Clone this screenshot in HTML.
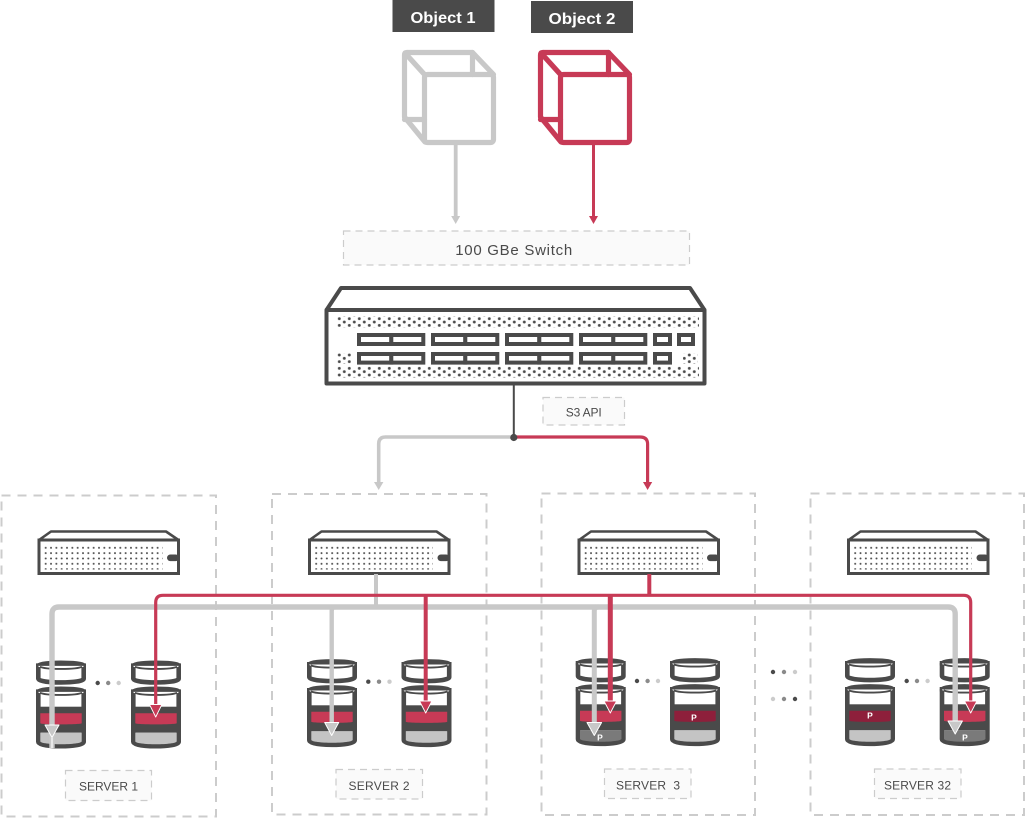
<!DOCTYPE html>
<html>
<head>
<meta charset="utf-8">
<style>
html,body{margin:0;padding:0;background:#fff}
svg{display:block}
text{font-family:"Liberation Sans",sans-serif}
.lb{fill:#fafafa;stroke:#ccc;stroke-width:1.2;stroke-dasharray:7 5}
.sb{fill:#fff;stroke:#ccc;stroke-width:2;stroke-dasharray:9 7}
.t{fill:#4a4a4a;text-anchor:middle}
.p{fill:#fff;font-size:8.5px;font-weight:bold;text-anchor:middle}
</style>
</head>
<body>
<svg width="1026" height="818" viewBox="0 0 1026 818" xmlns="http://www.w3.org/2000/svg">
<defs>
<pattern id="dA" patternUnits="userSpaceOnUse" width="10" height="6.667" patternTransform="translate(339.3 318.7)">
<circle cx="0" cy="0" r="1.45" fill="#4a4a4a"/><circle cx="10" cy="0" r="1.45" fill="#4a4a4a"/><circle cx="0" cy="6.667" r="1.45" fill="#4a4a4a"/><circle cx="10" cy="6.667" r="1.45" fill="#4a4a4a"/>
<circle cx="5" cy="3.333" r="1.45" fill="#4a4a4a"/>
</pattern>
<pattern id="dB" patternUnits="userSpaceOnUse" width="10" height="6.667" patternTransform="translate(339.3 355)">
<circle cx="0" cy="0" r="1.45" fill="#4a4a4a"/><circle cx="10" cy="0" r="1.45" fill="#4a4a4a"/><circle cx="0" cy="6.667" r="1.45" fill="#4a4a4a"/><circle cx="10" cy="6.667" r="1.45" fill="#4a4a4a"/>
<circle cx="5" cy="3.333" r="1.45" fill="#4a4a4a"/>
</pattern>
<pattern id="dS" patternUnits="userSpaceOnUse" width="5.33" height="5.33" patternTransform="translate(8.2 18.3)">
<circle cx="0" cy="0" r="1" fill="#4a4a4a"/><circle cx="5.33" cy="0" r="1" fill="#4a4a4a"/><circle cx="0" cy="5.33" r="1" fill="#4a4a4a"/><circle cx="5.33" cy="5.33" r="1" fill="#4a4a4a"/>
</pattern>
<g id="cube" fill="none" stroke-width="5.2" stroke-linejoin="round" stroke-linecap="round">
<path d="M407 52.5H470L472.5 52.5V74.5"/>
<path d="M407 52.5Q404.5 52.5 404.5 55V117L425 142"/>
<path d="M404.5 119.5H424.5"/>
<path d="M405 53L424.5 74.5"/>
<path d="M472.5 52.5L493.5 74.5"/>
<rect x="424.5" y="74.5" width="69" height="68" rx="3"/>
</g>
<g id="srv">
<path d="M1.5 10.5L13.5 2H128.5L141 10.5" fill="#fff" stroke="#4a4a4a" stroke-width="2.6" stroke-linejoin="round"/>
<rect x="1.5" y="10.5" width="139.5" height="33.5" fill="#fff" stroke="#4a4a4a" stroke-width="3"/>
<rect x="7" y="17" width="118" height="23" fill="url(#dS)"/>
<rect x="129.5" y="25" width="12" height="6.6" rx="3.3" fill="#4a4a4a"/>
</g>
<g id="cyl">
<path d="M2.3 5V18C2.3 23 47.7 23 47.7 18V5Z" fill="#fff" stroke="#4a4a4a" stroke-width="4.6"/>
<path d="M2.3 5C2.3 1 47.7 1 47.7 5Z" fill="#4a4a4a" stroke="#4a4a4a" stroke-width="4.4"/>
<path d="M2.3 5.2H47.7V5.5C47.7 8.7 2.3 8.7 2.3 5.5Z" fill="#fff"/>
<path d="M4 6C9 9 41 9 46 6" fill="none" stroke="#4a4a4a" stroke-width="1.8"/>
<path d="M2.3 31V81C2.3 87 47.7 87 47.7 81V31Z" fill="#fff" stroke="#4a4a4a" stroke-width="4.6"/>
<path d="M2.3 31C2.3 27 47.7 27 47.7 31Z" fill="#4a4a4a" stroke="#4a4a4a" stroke-width="4.4"/>
<path d="M2.3 31.2H47.7V31.5C47.7 34.7 2.3 34.7 2.3 31.5Z" fill="#fff"/>
<path d="M4 32C9 35 41 35 46 32" fill="none" stroke="#4a4a4a" stroke-width="1.8"/>
<rect x="2" y="46" width="46" height="26" fill="#4a4a4a"/>
</g>
<path id="bR" d="M4.3 52.5H45.7V62.5C45.7 64 4.3 64 4.3 62.5Z" fill="#c73a56"/>
<path id="bD" d="M4.3 52.5H45.7V62.5C45.7 64 4.3 64 4.3 62.5Z" fill="#8e1f3b"/>
<path id="gL" d="M4.3 72H45.7V80.5C45.7 84.5 4.3 84.5 4.3 80.5Z" fill="#c4c4c4"/>
<path id="gD" d="M4.3 72H45.7V80.5C45.7 84.5 4.3 84.5 4.3 80.5Z" fill="#7a7a7a"/>
</defs>

<!-- object labels -->
<rect x="392.5" y="0" width="102" height="32" fill="#4a4a4a"/>
<text x="443" y="23" font-size="16" font-weight="bold" fill="#fff" text-anchor="middle" textLength="65" lengthAdjust="spacingAndGlyphs">Object 1</text>
<rect x="531" y="1" width="102" height="32" fill="#4a4a4a"/>
<text x="582" y="24" font-size="16" font-weight="bold" fill="#fff" text-anchor="middle" textLength="67" lengthAdjust="spacingAndGlyphs">Object 2</text>

<!-- cubes -->
<use href="#cube" stroke="#c8c8c8"/>
<use href="#cube" stroke="#c73a56" transform="translate(136 0)"/>

<path d="M455.7 145V217" stroke="#c8c8c8" stroke-width="3.8" fill="none"/>
<polygon points="451.2,216 460.2,216 455.7,224" fill="#c8c8c8"/>
<path d="M593.5 145V217" stroke="#c73a56" stroke-width="3" fill="none"/>
<polygon points="589,216 598,216 593.5,224" fill="#c73a56"/>

<!-- switch label -->
<rect class="lb" x="343.5" y="231" width="346" height="34"/>
<text class="t" x="513.7" y="255" font-size="15" textLength="117" lengthAdjust="spacing">100 GBe Switch</text>

<!-- switch -->
<path d="M326.5 310L341 288H690L704.5 310" fill="#fff" stroke="#4a4a4a" stroke-width="4" stroke-linejoin="round"/>
<rect x="326.5" y="310" width="378" height="73.5" fill="#fff" stroke="#4a4a4a" stroke-width="4" stroke-linejoin="round"/>
<rect x="337" y="316.5" width="362" height="11" fill="url(#dA)"/>
<rect x="337" y="366.5" width="362" height="11" fill="url(#dB)"/>
<rect x="337" y="353" width="15" height="11" fill="url(#dB)"/>
<rect x="683" y="353" width="15" height="11" fill="url(#dB)"/>
<g fill="#fff" stroke="#4a4a4a" stroke-width="4">
<rect x="359" y="335" width="32.3" height="9"/><rect x="391.3" y="335" width="32" height="9"/>
<rect x="433" y="335" width="32.3" height="9"/><rect x="465.3" y="335" width="32" height="9"/>
<rect x="507" y="335" width="32.3" height="9"/><rect x="539.3" y="335" width="32" height="9"/>
<rect x="581" y="335" width="32.3" height="9"/><rect x="613.3" y="335" width="32" height="9"/>
<rect x="655" y="335" width="15" height="9"/><rect x="679" y="335" width="14" height="9"/>
<rect x="359" y="354" width="32.3" height="8.6"/><rect x="391.3" y="354" width="32" height="8.6"/>
<rect x="433" y="354" width="32.3" height="8.6"/><rect x="465.3" y="354" width="32" height="8.6"/>
<rect x="507" y="354" width="32.3" height="8.6"/><rect x="539.3" y="354" width="32" height="8.6"/>
<rect x="581" y="354" width="32.3" height="8.6"/><rect x="613.3" y="354" width="32" height="8.6"/>
<rect x="655" y="354" width="15" height="8.6"/>
</g>

<!-- S3 API -->
<rect class="lb" x="543" y="397.5" width="81.5" height="27.5"/>
<text class="t" x="583.7" y="416.5" font-size="12" textLength="36" lengthAdjust="spacing">S3 API</text>

<!-- split -->
<path d="M514 437H385.5Q378.7 437 378.7 444V484" fill="none" stroke="#c8c8c8" stroke-width="3.6"/>
<polygon points="374,482 383.4,482 378.7,490" fill="#c8c8c8"/>
<path d="M514 437H640Q647.6 437 647.6 444V484" fill="none" stroke="#c73a56" stroke-width="3.2"/>
<polygon points="643,482 652.2,482 647.6,490" fill="#c73a56"/>
<path d="M513.8 385V437" stroke="#4a4a4a" stroke-width="2"/>
<circle cx="513.8" cy="437.5" r="3.6" fill="#4a4a4a"/>

<!-- server boxes -->
<rect class="sb" x="1.5" y="495.5" width="214.5" height="321"/>
<rect class="sb" x="272" y="494" width="214.5" height="320.5"/>
<rect class="sb" x="541.5" y="493.5" width="213.5" height="321.5"/>
<rect class="sb" x="810.5" y="493.5" width="213.5" height="321.5"/>

<!-- small servers -->
<use href="#srv" x="37.5" y="529.5"/>
<use href="#srv" x="308" y="529.5"/>
<use href="#srv" x="577.5" y="529.5"/>
<use href="#srv" x="847" y="529.5"/>

<!-- cylinders -->
<g transform="translate(36 660.7)"><use href="#cyl"/><use href="#bR"/><use href="#gL"/></g>
<g transform="translate(131 660.7)"><use href="#cyl"/><use href="#bR"/><use href="#gL"/></g>
<g transform="translate(307 659.3)"><use href="#cyl"/><use href="#bR"/><use href="#gL"/></g>
<g transform="translate(401.5 659.3)"><use href="#cyl"/><use href="#bR"/><use href="#gL"/></g>
<g transform="translate(575.7 658.3)"><use href="#cyl"/><use href="#bR"/><use href="#gD"/></g>
<g transform="translate(670 658.3)"><use href="#cyl"/><use href="#bD"/><use href="#gL"/></g>
<g transform="translate(845 658.3)"><use href="#cyl"/><use href="#bD"/><use href="#gL"/></g>
<g transform="translate(939.7 658.3)"><use href="#cyl"/><use href="#bR"/><use href="#gD"/></g>
<text class="p" x="600" y="740.7">P</text>
<text class="p" x="694" y="720.7">P</text>
<text class="p" x="870" y="718.7">P</text>
<text class="p" x="965" y="740.7">P</text>

<!-- ellipsis dots -->
<g>
<circle cx="97.7" cy="683" r="2.2" fill="#4a4a4a"/><circle cx="108.2" cy="683" r="2.2" fill="#8a8a8a"/><circle cx="118.7" cy="683" r="2.2" fill="#ccc"/>
<circle cx="368.3" cy="681.7" r="2.2" fill="#4a4a4a"/><circle cx="379" cy="681.7" r="2.2" fill="#8a8a8a"/><circle cx="389.5" cy="681.7" r="2.2" fill="#ccc"/>
<circle cx="637" cy="681" r="2.2" fill="#4a4a4a"/><circle cx="647.6" cy="681" r="2.2" fill="#8a8a8a"/><circle cx="658" cy="681" r="2.2" fill="#ccc"/>
<circle cx="906.7" cy="681" r="2.2" fill="#4a4a4a"/><circle cx="917" cy="681" r="2.2" fill="#8a8a8a"/><circle cx="927.6" cy="681" r="2.2" fill="#ccc"/>
<circle cx="773" cy="672" r="2.2" fill="#4a4a4a"/><circle cx="784" cy="672" r="2.2" fill="#8a8a8a"/><circle cx="795" cy="672" r="2.2" fill="#ccc"/>
<circle cx="773" cy="699" r="2.2" fill="#ccc"/><circle cx="784" cy="699" r="2.2" fill="#8a8a8a"/><circle cx="795" cy="699" r="2.2" fill="#4a4a4a"/>
</g>

<!-- gray connectors -->
<g fill="none" stroke="#c8c8c8">
<path d="M52 748V614Q52 607 59 607H948Q955.2 607 955.2 614V724" stroke-width="5.4"/>
<path d="M376 574V607" stroke-width="4"/>
<path d="M331.7 724V611Q331.7 607 336 607" stroke-width="4.4"/>
<path d="M594.3 724V611Q594.3 607 599 607" stroke-width="5"/>
</g>
<g fill="#c8c8c8" stroke="#fff" stroke-width="1" stroke-linejoin="round">
<polygon points="45,725 59,725 52,737.5"/>
<polygon points="324.7,722.5 338.7,722.5 331.7,735.5"/>
<polygon points="587,722.5 601.6,722.5 594.3,735.5"/>
<polygon points="948,721 962.4,721 955.2,734"/>
</g>
<path d="M52 738V748" stroke="#fff" stroke-width="1.2"/>

<!-- red connectors -->
<g fill="none" stroke="#c73a56">
<path d="M155.7 706V602.5Q155.7 595.3 163 595.3H963.5Q970.7 595.3 970.7 602.5V703" stroke-width="3.2"/>
<path d="M649.3 574V595" stroke-width="4"/>
<path d="M425.7 595V703" stroke-width="4"/>
<path d="M610.3 595V703" stroke-width="5"/>
</g>
<g fill="#c73a56" stroke="#fff" stroke-width="0.9" stroke-linejoin="round">
<polygon points="149.5,704.5 161.9,704.5 155.7,717"/>
<polygon points="419.5,701 431.9,701 425.7,713"/>
<polygon points="604,701 616.6,701 610.3,713"/>
<polygon points="964.5,701 976.9,701 970.7,713"/>
</g>

<!-- server labels -->
<rect class="lb" x="65.5" y="770.5" width="86" height="30"/>
<text class="t" x="108.5" y="790.5" font-size="12" textLength="59" lengthAdjust="spacing">SERVER 1</text>
<rect class="lb" x="336" y="769.5" width="86.5" height="29.5"/>
<text class="t" x="379" y="790" font-size="12" textLength="61" lengthAdjust="spacing">SERVER 2</text>
<rect class="lb" x="604.5" y="769" width="86.5" height="29.5"/>
<text class="t" x="648" y="789.5" font-size="12" textLength="64" lengthAdjust="spacing" xml:space="preserve">SERVER  3</text>
<rect class="lb" x="874.5" y="769" width="86.5" height="29.5"/>
<text class="t" x="917.5" y="789.5" font-size="12" textLength="67" lengthAdjust="spacing">SERVER 32</text>
</svg>
</body>
</html>
